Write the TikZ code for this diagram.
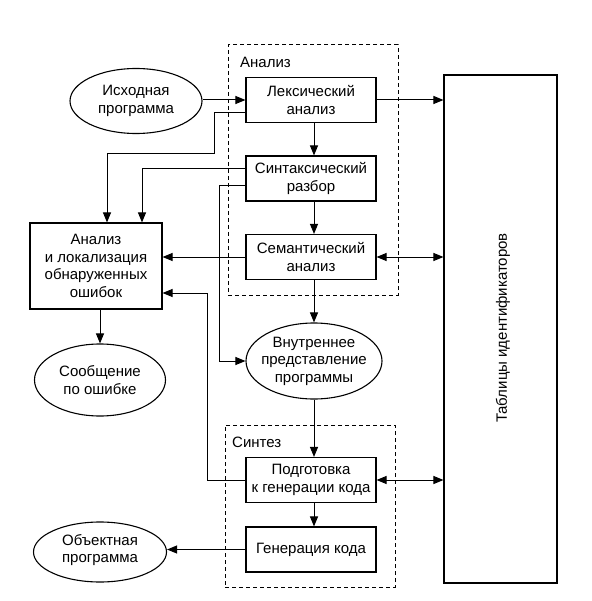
\documentclass[tikz,border=0pt]{standalone}
\usepackage{fontspec}
\setmainfont{Liberation Sans}
\usetikzlibrary{arrows.meta,calc,shapes.geometric}
\begin{document}
\begin{tikzpicture}[x=1pt,y=-1pt,
  font=\fontsize{15}{17.5}\selectfont,
  box/.style={draw,line width=1.1pt,minimum width=130pt,minimum height=45pt,inner sep=0pt,align=center},
  ell/.style={draw,ellipse,line width=1.1pt,inner sep=0pt},
  lbl/.style={align=center,inner sep=0pt},
  arr/.style={line width=1pt,-{Triangle[length=10pt,width=8pt]}},
  darr/.style={line width=1pt,{Triangle[length=10pt,width=8pt]}-{Triangle[length=10pt,width=8pt]}},
  frame/.style={draw,line width=1pt,dash pattern=on 4pt off 3pt,inner sep=0pt}]
\useasboundingbox (0,0) rectangle (591,601);

% dashed frames
\node[frame,minimum width=170pt,minimum height=250pt] (ana) at (313,170) {};
\node[lbl,anchor=west] (analbl) at (240,62) {Анализ};
\node[frame,minimum width=170pt,minimum height=162pt] (syn2) at (310,506) {};
\node[lbl,anchor=west] (synlbl) at (232,442) {Синтез};

% boxes
\node[box] (lex) at (311,100) {Лексический\\анализ};
\node[box] (syn) at (311,178.5) {Синтаксический\\разбор};
\node[box] (sem) at (311,257) {Семантический\\анализ};
\node[box] (prep) at (311,480) {Подготовка\\к генерации кода};
\node[box] (gen) at (311,549.5) {Генерация кода};
\node[box,minimum width=132pt,minimum height=86pt] (err) at (96,266) {Анализ\\и локализация\\обнаруженных\\ошибок};
\node[draw,line width=1.1pt,minimum width=113pt,minimum height=508pt,inner sep=0pt] (tab) at (500.5,329) {};
\node[lbl,rotate=90] (tablbl) at (503,328) {Таблицы идентификаторов};

% ellipses
\node[ell,minimum width=132pt,minimum height=65pt] (src) at (136,101) {};
\node[lbl] (srct) at (src) {Исходная\\программа};
\node[ell,minimum width=131pt,minimum height=72pt] (msg) at (100,380) {};
\node[lbl] (msgt) at (msg) {Сообщение\\по ошибке};
\node[ell,minimum width=136pt,minimum height=76pt] (ir) at (314,361) {};
\node[lbl] (irt) at (ir) {Внутреннее\\представление\\программы};
\node[ell,minimum width=133pt,minimum height=60pt] (obj) at (100,552) {};
\node[lbl] (objt) at (100,550) {Объектная\\программа};

% helper coordinates
\coordinate (c1) at (214,154);
\coordinate (c2) at (219,0);
\coordinate (c3) at (207,0);
\coordinate (e1) at ($(err.north)+(11,0)$);
\coordinate (e2) at ($(err.north)+(46,0)$);
\coordinate (e3) at ($(err.east)+(0,27)$);

% connectors
\draw[arr] (src.east |- lex.west) -- (lex.west);
\draw[arr] ($(lex.west)+(0,13)$) -| (c1) -| (e1);
\draw[arr] ($(syn.west)+(0,-9.5)$) -| (e2);
\draw[arr] ($(syn.west)+(0,7.5)$) -| (c2 |- ir.west) -- (ir.west);
\draw[arr] (sem.west) -- (sem.west -| err.east);
\draw[arr] (prep.west) -- (prep.west -| c3) -- (c3 |- e3) -- (e3);
\draw[arr] (err.south -| msg.north) -- (msg.north);
\draw[arr] (lex.south -| ir.north) -- (syn.north -| ir.north);
\draw[arr] (syn.south -| ir.north) -- (sem.north -| ir.north);
\draw[arr] (sem.south -| ir.north) -- (ir.north);
\draw[arr] (ir.south) -- (prep.north -| ir.south);
\draw[arr] (prep.south -| ir.south) -- (gen.north -| ir.south);
\draw[arr] (gen.west) -- (gen.west -| obj.east);
\draw[arr] (lex.east) -- (lex.east -| tab.west);
\draw[darr] (sem.east) -- (sem.east -| tab.west);
\draw[darr] (prep.east) -- (prep.east -| tab.west);
\end{tikzpicture}
\end{document}
